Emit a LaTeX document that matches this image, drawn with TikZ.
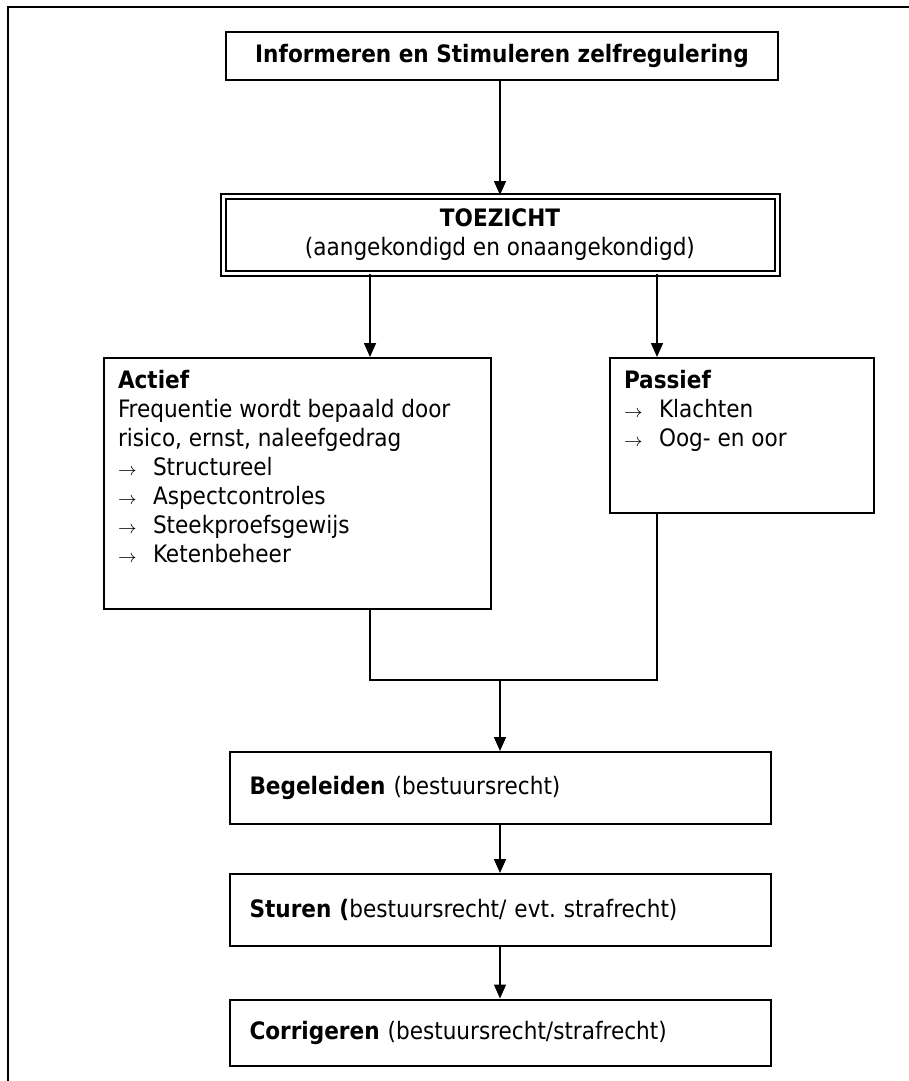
\documentclass[tikz,border=0pt]{standalone}
\usepackage{fontspec}
\setmainfont{DejaVu Sans Condensed}
\usepackage{tikz}
\usetikzlibrary{arrows.meta,positioning,calc}
\frenchspacing

\newcommand{\itm}[1]{\makebox[17.5pt][l]{\small$\rightarrow$}#1}

\begin{document}
\begin{tikzpicture}[
  x=0.5pt, y=-0.5pt,
  >={Triangle[width=6pt,length=7pt]},
  font=\fontsize{12pt}{14.5pt}\selectfont,
  box/.style={draw, line width=1pt, align=center, inner sep=0pt},
  panel/.style={draw, line width=1pt, anchor=north west, inner xsep=7pt, inner ysep=6pt},
  stage/.style={draw, line width=1pt, align=left, inner xsep=10pt, text width=250.5pt, minimum height=36pt},
  line/.style={->, line width=0.8pt}
]
\useasboundingbox (0,0) rectangle (909,1081);

% page frame
\draw[line width=1pt] (909,7) -- (8,7) -- (8,1081);

\node[box, minimum width=276pt, minimum height=24pt] (info) at (502,56) {\textbf{Informeren en Stimuleren zelfregulering}};
\node[box, double, double distance=1.5pt, minimum width=277pt, minimum height=38.5pt] (toezicht) at (500,234.5) {\textbf{TOEZICHT}\\(aangekondigd en onaangekondigd)};

\node[panel] (actief) at (103,357) {\parbox[t][113.5pt][t]{179.5pt}{\textbf{Actief}\\
  Frequentie wordt bepaald door\\
  risico, ernst, naleefgedrag\\
  \itm{Structureel}\\
  \itm{Aspectcontroles}\\
  \itm{Steekproefsgewijs}\\
  \itm{Ketenbeheer}}};
\node[panel] (passief) at (609,357) {\parbox[t][65.5pt][t]{118pt}{\textbf{Passief}\\
  \itm{Klachten}\\
  \itm{Oog- en oor}}};

\node[stage] (begeleiden) at (500,788) {\textbf{Begeleiden} (bestuursrecht)};
\node[stage] (sturen) at (500,910) {\textbf{Sturen (}bestuursrecht/ evt. strafrecht)};
\node[stage, minimum height=33pt] (corrigeren) at (500,1032.5) {\textbf{Corrigeren} (bestuursrecht/strafrecht)};

\coordinate (aL) at (370,0);
\coordinate (pL) at (657,0);
\coordinate (join) at (500,680);

\draw[line] (info.south -| toezicht.north) -- (toezicht);
\draw[line] (toezicht.south -| aL) -- (actief.north -| aL);
\draw[line] (toezicht.south -| pL) -- (passief.north -| pL);
\draw[line width=0.8pt] (actief.south -| aL) |- (join) -| (passief.south -| pL);
\draw[line] (join) -- (begeleiden);
\draw[line] (begeleiden) -- (sturen);
\draw[line] (sturen) -- (corrigeren);

\end{tikzpicture}
\end{document}
